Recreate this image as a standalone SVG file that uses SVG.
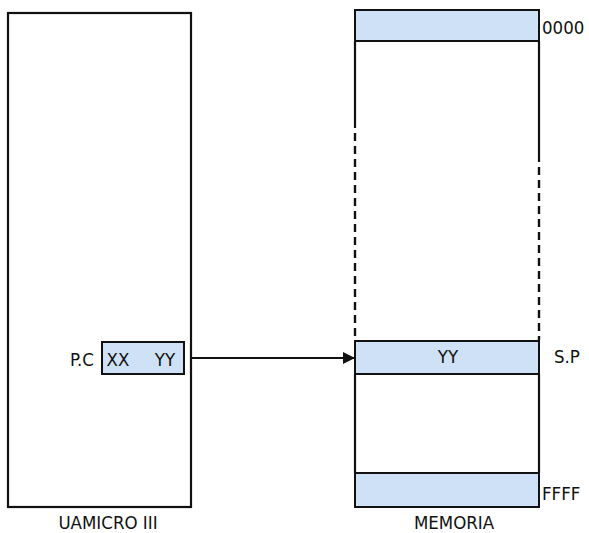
<svg xmlns="http://www.w3.org/2000/svg" width="589" height="533" viewBox="0 0 589 533">
<style>
.box{fill:#fff;stroke:#111;stroke-width:2.2}
.band{fill:#cfe1f6;stroke:#111;stroke-width:2}
.ln{stroke:#111;stroke-width:2.2;fill:none}
.dash{stroke:#111;stroke-width:2.4;fill:none;stroke-dasharray:8 5}
text{font-family:"DejaVu Sans Condensed","DejaVu Sans",sans-serif;font-stretch:condensed;font-size:18.5px;fill:#111}
</style>
<defs>
<marker id="ah" markerWidth="12" markerHeight="12" refX="12" refY="6" orient="auto" markerUnits="userSpaceOnUse">
<path d="M0,0 L12,6 L0,12 Z" fill="#111"/>
</marker>
</defs>
<rect width="589" height="533" fill="#fff"/>
<g id="uamicro">
<rect class="box" x="8" y="13" width="183" height="494"/>
<text x="108" y="529" text-anchor="middle">UAMICRO III</text>
</g>
<g id="pc">
<text x="94" y="366" text-anchor="end">P.C</text>
<rect class="band" x="102" y="342" width="82" height="32"/>
<text x="118" y="366" text-anchor="middle">XX</text>
<text x="165" y="366" text-anchor="middle">YY</text>
</g>
<g id="memoria">
<rect class="band" x="355" y="10" width="184" height="31"/>
<text x="542" y="34">0000</text>
<line class="ln" x1="355" y1="41" x2="355" y2="128"/>
<line class="ln" x1="539" y1="41" x2="539" y2="162"/>
<line class="dash" x1="355" y1="133" x2="355" y2="340"/>
<line class="dash" x1="539" y1="167" x2="539" y2="340"/>
<rect class="band" x="355" y="341" width="184" height="33"/>
<text x="448" y="363" text-anchor="middle">YY</text>
<text x="554" y="363">S.P</text>
<line class="ln" x1="355" y1="374" x2="355" y2="473"/>
<line class="ln" x1="539" y1="374" x2="539" y2="473"/>
<rect class="band" x="355" y="473" width="184" height="34"/>
<text x="542" y="500">FFFF</text>
<text x="454" y="529" text-anchor="middle">MEMORIA</text>
</g>
<g id="connectors">
<line class="ln" x1="191" y1="358" x2="355" y2="358" marker-end="url(#ah)"/>
</g>
</svg>
